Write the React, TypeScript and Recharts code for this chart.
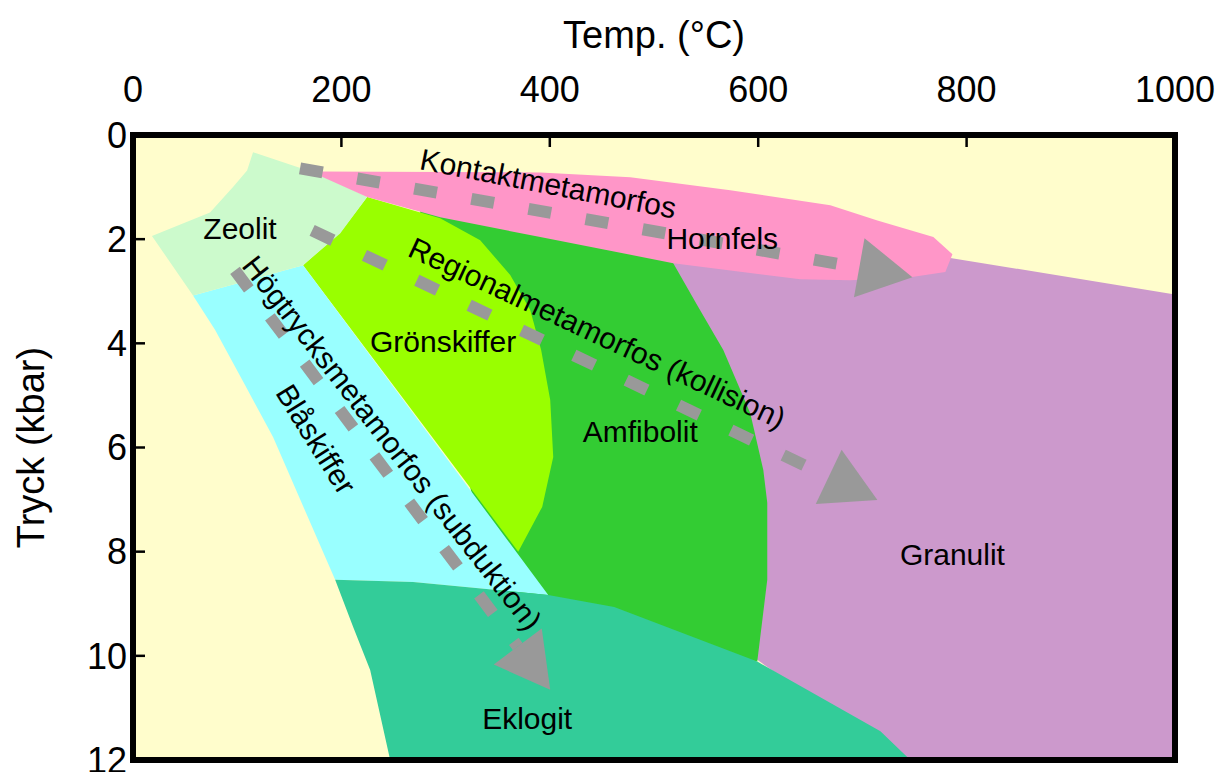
import React from "react"
import { ComposedChart, Scatter, XAxis, YAxis, CartesianGrid } from "recharts"

type Pt = { x: number; y: number }

const FONT = "'Liberation Sans', Arial, Helvetica, sans-serif"

const tempTicks = [0, 200, 400, 600, 800, 1000]
const pressureTicks = [0, 2, 4, 6, 8, 10, 12]

// facies fields as [temp °C, pressure kbar] outlines
const granulitPts = [[486.8, 2.21], [784.4, 2.36], [1000, 3.06], [1000, 12], [736.4, 12], [544.4, 9.31], [486.8, 5.09]]
const amfibolitPts = [[275.6, 1.35], [525.2, 2.21], [518.5, 2.46], [541.5, 3.27], [566.5, 4.13], [592.4, 5.34], [604.9, 6.43], [608.7, 7.06], [608.7, 8.54], [599.1, 10.11], [496.4, 9.69], [352.4, 8.92], [275.6, 3.17]]
const gronskifferPts = [[163.2, 2.5], [198.8, 1.87], [224.7, 1.19], [294.8, 1.6], [333.2, 2.02], [362.0, 2.69], [381.2, 3.36], [391.7, 4.13], [400.4, 5.09], [403.3, 6.18], [392.7, 7.14], [369.7, 8.0]]
const blaskifferPts = [[57.6, 3.08], [163.2, 2.5], [398.5, 8.83], [268.8, 8.58], [194.0, 8.54], [134.4, 5.8], [107.5, 4.8], [78.7, 3.74]]
const eklogitPts = [[194.0, 8.54], [268.8, 8.58], [398.5, 8.83], [461.8, 9.06], [599.1, 10.11], [717.3, 11.45], [746.0, 12], [246.8, 12], [227.6, 10.27], [211.2, 9.44]]
const zeolitPts = [[115.2, 0.33], [158.4, 0.62], [177.6, 0.73], [224.7, 1.19], [198.8, 1.89], [163.2, 2.5], [57.6, 3.08], [18.2, 1.94], [73.9, 1.49], [96.0, 1.0], [109.5, 0.68]]
const hornfelsPts = [[177.6, 0.7], [390.8, 0.72], [477.2, 0.81], [573.2, 1.06], [669.2, 1.35], [714.4, 1.64], [768.1, 1.96], [786.4, 2.29], [779.6, 2.63], [746.0, 2.73], [688.4, 2.79], [640.4, 2.77], [518.5, 2.46], [390.8, 1.96], [294.8, 1.58], [224.7, 1.19], [177.6, 0.77]]

// metamorphic paths: start -> arrow tip
const kontaktPath = [[160.3, 0.64], [748.0, 2.73]]
const regionalPath = [[171.9, 1.83], [714.4, 7.01]]
const subduktionPath = [[97.9, 2.6], [400.4, 10.65]]

const framePts = [[0, 0], [1000, 0], [1000, 12], [0, 12]]

const fieldLabels = [
  { x: 102.7, y: 1.79, text: "Zeolit", angle: 0 },
  { x: 565.5, y: 1.98, text: "Hornfels", angle: 0 },
  { x: 297.6, y: 3.96, text: "Grönskiffer", angle: 0 },
  { x: 486.8, y: 5.7, text: "Amfibolit", angle: 0 },
  { x: 786.4, y: 8.06, text: "Granulit", angle: 0 },
  { x: 378.3, y: 11.2, text: "Eklogit", angle: 0 },
  { x: 175.7, y: 5.84, text: "Blåskiffer", angle: 58 },
  { x: 398.5, y: 0.93, text: "Kontaktmetamorfos", angle: 11 },
  { x: 445.5, y: 3.8, text: "Regionalmetamorfos (kollision)", angle: 25 },
  { x: 248.7, y: 5.91, text: "Högtrycksmetamorfos (subduktion)", angle: 52 },
]

const toPts = (arr: number[][]): Pt[] => arr.map(([x, y]) => ({ x, y }))

const noDot = () => <g />

const polygon = (fill: string) => (props: any) => {
  const pts: Pt[] = props.points || []
  const d = pts.map((p, i) => `${i ? "L" : "M"}${p.x},${p.y}`).join(" ") + " Z"
  return <path d={d} fill={fill} stroke="none" />
}

const frame = (props: any) => {
  const pts: Pt[] = props.points || []
  const d = pts.map((p, i) => `${i ? "L" : "M"}${p.x},${p.y}`).join(" ") + " Z"
  return <path d={d} fill="none" stroke="#000" strokeWidth={6} strokeLinejoin="miter" />
}

const arrow = (props: any) => {
  const pts: Pt[] = props.points || []
  if (pts.length < 2) return <g />
  const [a, b] = pts
  const len = Math.hypot(b.x - a.x, b.y - a.y)
  const ux = (b.x - a.x) / len
  const uy = (b.y - a.y) / len
  const bx = b.x - ux * 54
  const by = b.y - uy * 54
  const half = 30
  return (
    <g>
      <line x1={a.x} y1={a.y} x2={bx} y2={by} stroke="#999999" strokeWidth={12} strokeDasharray="23 35" />
      <polygon
        points={`${b.x},${b.y} ${bx - uy * half},${by + ux * half} ${bx + uy * half},${by - ux * half}`}
        fill="#999999"
      />
    </g>
  )
}

const labelShape = (props: any) => {
  const p = props.payload ?? props
  const { cx, cy } = props
  return (
    <text
      x={cx}
      y={cy}
      transform={`rotate(${p.angle} ${cx} ${cy})`}
      textAnchor="middle"
      dominantBaseline="central"
      fontSize={30}
      fontFamily={FONT}
      fill="#000"
    >
      {p.text}
    </text>
  )
}

const fields: { pts: number[][]; color: string }[] = [
  { pts: granulitPts, color: "#CC99CC" },
  { pts: amfibolitPts, color: "#33CC33" },
  { pts: gronskifferPts, color: "#99FF00" },
  { pts: blaskifferPts, color: "#99FFFF" },
  { pts: eklogitPts, color: "#33CC99" },
  { pts: zeolitPts, color: "#CCFACC" },
  { pts: hornfelsPts, color: "#FF96C8" },
]

export default function App() {
  return (
    <div style={{ position: "absolute", left: 0, top: 0, width: 1223, height: 772, background: "#fff" }}>
      <ComposedChart width={1223} height={772} margin={{ top: 0, right: 48, bottom: 12, left: 0 }}>
        <CartesianGrid fill="#FFFDCC" stroke="none" horizontal={false} vertical={false} />
        <XAxis
          type="number"
          dataKey="x"
          orientation="top"
          domain={[0, 1000]}
          ticks={tempTicks}
          interval={0}
          height={135}
          axisLine={false}
          tickSize={-12}
          tickMargin={45}
          tickLine={{ stroke: "#000", strokeWidth: 2.5 }}
          tick={{ fontSize: 36, fill: "#000", fontFamily: FONT }}
          label={{ value: "Temp. (°C)", position: "insideTop", offset: 21, fontSize: 38, fill: "#000", fontFamily: FONT }}
        />
        <YAxis
          type="number"
          dataKey="y"
          reversed
          domain={[0, 12]}
          ticks={pressureTicks}
          interval={0}
          width={133}
          axisLine={false}
          tickSize={-12}
          tickMargin={18}
          tickLine={{ stroke: "#000", strokeWidth: 2.5 }}
          tick={{ fontSize: 36, fill: "#000", fontFamily: FONT }}
          label={{
            value: "Tryck (kbar)",
            angle: -90,
            position: "insideLeft",
            offset: 31,
            fontSize: 38,
            fill: "#000",
            fontFamily: FONT,
            style: { textAnchor: "middle" },
          }}
        />
        {fields.map((f, i) => (
          <Scatter
            key={i}
            data={toPts(f.pts)}
            line={polygon(f.color)}
            shape={noDot}
            isAnimationActive={false}
          />
        ))}
        <Scatter data={toPts(kontaktPath)} line={arrow} shape={noDot} isAnimationActive={false} />
        <Scatter data={toPts(regionalPath)} line={arrow} shape={noDot} isAnimationActive={false} />
        <Scatter data={toPts(subduktionPath)} line={arrow} shape={noDot} isAnimationActive={false} />
        <Scatter data={fieldLabels} shape={labelShape} isAnimationActive={false} />
        <Scatter data={toPts(framePts)} line={frame} shape={noDot} isAnimationActive={false} />
      </ComposedChart>
    </div>
  )
}
